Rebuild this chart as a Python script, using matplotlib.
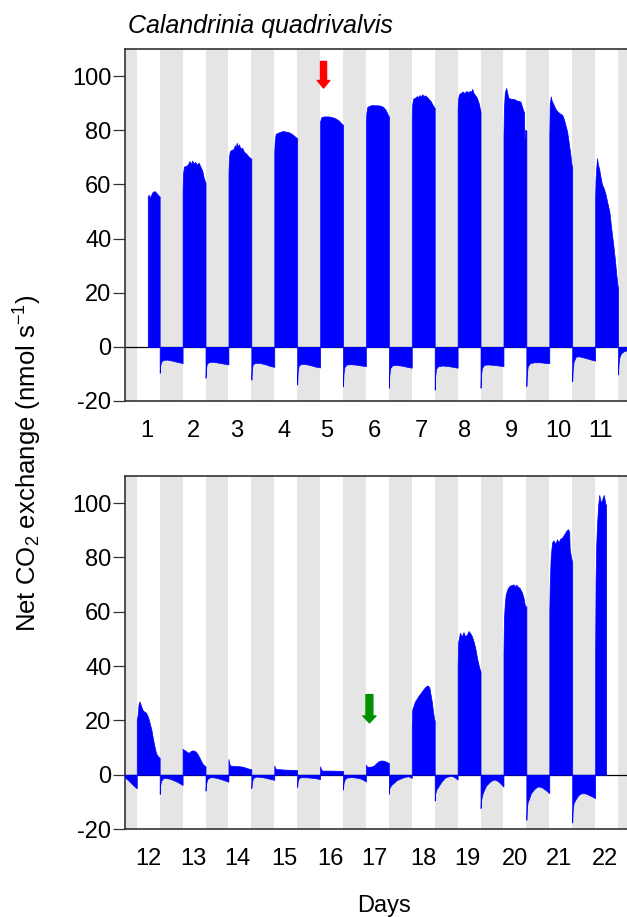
import matplotlib
matplotlib.use("Agg")
import matplotlib.pyplot as plt
import numpy as np

plt.rcParams['font.family'] = ['Liberation Sans', 'DejaVu Sans']
plt.rcParams['mathtext.fontset'] = 'custom'
plt.rcParams['mathtext.rm'] = 'Liberation Sans'
plt.rcParams['mathtext.it'] = 'Liberation Sans:italic'
plt.rcParams['axes.unicode_minus'] = False

# ---------------- data (days, net CO2 exchange nmol s-1) ----------------
top_days = list(range(1, 12))
top_tick_pos = [0.977, 1.996, 2.923, 3.957, 4.891, 5.925, 6.952, 7.899, 8.935, 9.954, 10.866]
bottom_days = list(range(12, 23))
bottom_tick_pos = [12.006, 12.99, 13.95, 14.96, 15.98, 16.925, 18.003, 18.97, 20.01, 20.954, 21.975]

top_series = [
    # day 1 light
    (0.99, 55.6), (1.01, 56.2), (1.03, 55.0), (1.06, 56.0), (1.10, 57.3), (1.14, 57.5),
    (1.18, 56.8), (1.22, 56.0), (1.25, 55.5),
    # night 1
    (1.25, -9.6), (1.26, -7.0), (1.28, -5.6), (1.32, -4.9), (1.40, -4.7), (1.50, -5.0),
    (1.62, -5.5), (1.75, -6.0),
    # day 2
    (1.75, 58.0), (1.76, 64.0), (1.78, 66.6), (1.82, 66.8), (1.86, 67.2), (1.90, 68.6),
    (1.93, 67.5), (1.96, 68.8), (1.99, 67.6), (2.02, 68.3), (2.06, 67.3), (2.10, 68.0),
    (2.14, 66.5), (2.18, 65.0), (2.21, 62.5), (2.25, 60.5),
    # night 2
    (2.25, -11.4), (2.26, -8.0), (2.28, -6.2), (2.33, -5.6), (2.42, -5.5), (2.55, -5.9),
    (2.65, -6.2), (2.75, -6.5),
    # day 3
    (2.75, 64.2), (2.76, 70.0), (2.78, 72.2), (2.82, 72.8), (2.86, 73.0), (2.89, 74.5),
    (2.91, 73.5), (2.93, 75.4), (2.95, 74.0), (2.98, 74.8), (3.01, 73.3), (3.05, 73.5),
    (3.09, 72.0), (3.13, 71.5), (3.18, 70.5), (3.22, 69.8), (3.25, 69.5),
    # night 3
    (3.25, -12.1), (3.26, -8.5), (3.28, -6.5), (3.33, -5.9), (3.42, -5.9), (3.55, -6.4),
    (3.65, -7.0), (3.75, -7.4),
    # day 4
    (3.75, 72.0), (3.76, 76.0), (3.78, 78.6), (3.82, 79.0), (3.88, 79.4), (3.94, 79.7),
    (4.00, 79.5), (4.06, 79.3), (4.12, 78.8), (4.18, 78.0), (4.22, 77.4), (4.25, 77.0),
    # night 4
    (4.25, -13.9), (4.26, -9.5), (4.28, -7.0), (4.33, -6.3), (4.42, -6.3), (4.55, -6.8),
    (4.65, -7.3), (4.75, -7.6),
    # day 5
    (4.75, 83.3), (4.78, 84.9), (4.84, 85.1), (4.92, 85.1), (5.00, 84.9), (5.08, 84.4),
    (5.14, 83.8), (5.19, 83.0), (5.23, 82.2), (5.25, 82.0),
    # night 5
    (5.25, -14.5), (5.26, -10.0), (5.28, -7.5), (5.33, -6.5), (5.42, -6.4), (5.55, -6.6),
    (5.65, -6.9), (5.75, -7.1),
    # day 6
    (5.75, 83.3), (5.76, 86.5), (5.78, 88.6), (5.82, 89.0), (5.88, 89.3), (5.95, 89.2),
    (6.02, 89.2), (6.08, 89.0), (6.13, 88.5), (6.18, 87.5), (6.22, 86.0), (6.25, 85.1),
    # night 6
    (6.25, -15.1), (6.26, -10.5), (6.28, -7.8), (6.33, -6.8), (6.42, -6.7), (6.55, -7.0),
    (6.65, -7.4), (6.75, -7.7),
    # day 7
    (6.75, 85.7), (6.76, 89.5), (6.78, 91.6), (6.82, 92.0), (6.86, 92.6), (6.89, 92.2),
    (6.92, 93.0), (6.95, 92.4), (6.98, 93.3), (7.01, 92.5), (7.04, 92.9), (7.08, 92.3),
    (7.12, 91.5), (7.16, 90.8), (7.20, 89.5), (7.25, 88.2),
    # night 7
    (7.25, -15.8), (7.26, -11.0), (7.28, -8.0), (7.33, -7.1), (7.42, -6.9), (7.55, -7.1),
    (7.65, -7.4), (7.75, -7.7),
    # day 8
    (7.75, 88.0), (7.76, 91.5), (7.78, 93.3), (7.82, 93.8), (7.86, 94.3), (7.90, 93.7),
    (7.94, 94.5), (7.98, 94.0), (8.02, 94.6), (8.05, 94.2), (8.07, 95.3), (8.09, 94.0),
    (8.13, 93.0), (8.17, 92.0), (8.21, 90.0), (8.235, 88.0), (8.25, 86.9),
    # night 8
    (8.25, -15.1), (8.26, -10.5), (8.28, -7.8), (8.33, -6.6), (8.42, -6.5), (8.55, -6.7),
    (8.65, -6.9), (8.75, -7.1),
    # day 9
    (8.75, 78.0), (8.76, 88.0), (8.78, 94.0), (8.81, 95.6), (8.83, 94.0), (8.85, 92.5),
    (8.86, 91.9), (8.92, 91.6), (8.97, 91.6), (9.04, 91.0), (9.12, 90.6), (9.15, 89.0),
    (9.175, 87.6), (9.20, 86.5), (9.205, 77.1), (9.22, 77.5), (9.225, 80.2), (9.25, 79.8),
    # night 9
    (9.25, -14.5), (9.26, -10.0), (9.28, -7.2), (9.33, -6.0), (9.42, -5.7), (9.55, -5.7),
    (9.65, -5.9), (9.75, -6.0),
    # day 10
    (9.75, 78.0), (9.76, 90.0), (9.785, 92.5), (9.80, 91.0), (9.845, 89.4), (9.88, 88.0),
    (9.93, 86.9), (9.98, 86.2), (10.03, 85.7), (10.07, 84.0), (10.10, 82.0), (10.14, 79.5),
    (10.17, 75.9), (10.21, 71.0), (10.235, 67.3), (10.25, 66.5),
    # night 10
    (10.25, -12.7), (10.26, -8.5), (10.28, -5.5), (10.33, -3.6), (10.40, -3.5), (10.52, -4.0),
    (10.64, -4.6), (10.75, -5.1),
    # day 11
    (10.75, 55.0), (10.76, 62.0), (10.79, 69.7), (10.81, 67.5), (10.84, 65.5), (10.87, 62.5),
    (10.90, 60.0), (10.94, 58.5), (10.975, 56.5), (11.02, 53.0), (11.06, 50.0), (11.10, 44.0),
    (11.14, 38.5), (11.18, 32.5), (11.21, 27.0), (11.24, 22.5), (11.25, 22.0),
    # night 11
    (11.25, -10.2), (11.26, -6.5), (11.28, -3.8), (11.32, -2.3), (11.38, -1.6), (11.46, -1.2),
    (11.50, -1.1),
]

bottom_series = [
    # end of night 11
    (11.48, -1.0), (11.55, -1.8), (11.62, -3.0), (11.68, -4.0), (11.75, -5.0),
    # day 12
    (11.75, 20.3), (11.77, 22.0), (11.79, 26.0), (11.81, 27.0), (11.84, 25.5), (11.87, 24.0),
    (11.90, 23.4), (11.955, 22.8), (12.00, 21.0), (12.03, 19.1), (12.07, 16.5), (12.10, 13.5),
    (12.135, 10.5), (12.17, 8.0), (12.21, 6.8), (12.25, 6.2),
    # night 12
    (12.25, -7.1), (12.26, -4.0), (12.28, -2.3), (12.32, -1.4), (12.36, -1.1), (12.45, -1.4),
    (12.55, -2.0), (12.65, -2.8), (12.75, -3.8),
    # day 13
    (12.75, 9.5), (12.78, 9.2), (12.83, 8.6), (12.88, 8.0), (12.92, 8.6), (12.97, 9.0),
    (13.03, 8.6), (13.08, 7.5), (13.12, 6.2), (13.16, 4.8), (13.20, 3.7), (13.25, 3.1),
    # night 13
    (13.25, -5.9), (13.26, -3.5), (13.29, -1.6), (13.34, -1.0), (13.40, -0.9), (13.50, -1.2),
    (13.60, -1.7), (13.75, -2.6),
    # day 14
    (13.75, 5.8), (13.77, 4.0), (13.80, 3.3), (13.90, 3.2), (14.00, 3.1), (14.07, 2.9),
    (14.14, 2.5), (14.20, 2.2), (14.25, 2.0),
    # night 14
    (14.25, -4.9), (14.26, -2.8), (14.29, -1.2), (14.35, -0.7), (14.45, -0.8), (14.55, -1.1),
    (14.65, -1.5), (14.75, -1.9),
    # day 15
    (14.75, 3.4), (14.77, 2.4), (14.80, 2.1), (14.95, 1.9), (15.10, 1.8), (15.25, 1.7),
    # night 15
    (15.25, -4.5), (15.26, -2.5), (15.29, -1.1), (15.35, -0.9), (15.50, -1.0), (15.65, -1.3),
    (15.75, -1.6),
    # day 16
    (15.75, 3.1), (15.77, 2.0), (15.80, 1.5), (16.00, 1.5), (16.25, 1.4),
    # night 16
    (16.25, -5.5), (16.26, -3.2), (16.29, -1.6), (16.34, -1.0), (16.45, -0.9), (16.60, -1.2),
    (16.68, -1.8), (16.75, -2.5),
    # day 17
    (16.75, 3.7), (16.77, 3.0), (16.81, 2.9), (16.86, 3.0), (16.91, 3.2), (16.95, 3.8),
    (16.98, 4.3), (17.02, 4.9), (17.07, 5.2), (17.12, 5.2), (17.165, 5.0), (17.21, 4.6),
    (17.25, 4.3),
    # night 17
    (17.25, -7.0), (17.26, -5.0), (17.30, -3.8), (17.35, -3.1), (17.42, -2.0), (17.53, -1.2),
    (17.62, -0.7), (17.68, -0.6), (17.75, -1.2),
    # day 18
    (17.75, 18.0), (17.76, 24.0), (17.79, 25.5), (17.82, 27.0), (17.86, 28.0), (17.89, 28.9),
    (17.95, 30.2), (18.00, 31.4), (18.04, 32.2), (18.08, 32.8), (18.11, 32.7), (18.135, 32.0),
    (18.16, 29.5), (18.19, 26.5), (18.215, 23.0), (18.24, 20.3), (18.25, 20.0),
    # night 18
    (18.25, -9.5), (18.26, -7.0), (18.29, -5.3), (18.33, -4.3), (18.40, -2.5), (18.48, -1.0),
    (18.55, -0.6), (18.62, -0.4), (18.68, -0.9), (18.75, -1.8),
    # day 19
    (18.75, 40.0), (18.76, 48.6), (18.78, 50.5), (18.805, 52.3), (18.84, 50.8), (18.877, 52.5),
    (18.91, 51.0), (18.95, 51.5), (18.99, 52.9), (19.03, 52.0), (19.06, 51.0), (19.10, 49.0),
    (19.13, 47.0), (19.18, 42.4), (19.22, 39.5), (19.25, 38.0),
    # night 19
    (19.25, -12.3), (19.26, -9.5), (19.29, -7.2), (19.315, -6.1), (19.37, -4.0), (19.46, -2.5),
    (19.52, -1.9), (19.57, -1.8), (19.64, -2.5), (19.70, -3.5), (19.75, -4.4),
    # day 20
    (19.75, 45.0), (19.76, 57.2), (19.78, 63.0), (19.80, 66.4), (19.84, 68.5), (19.88, 69.5),
    (19.92, 69.8), (19.97, 70.1), (20.00, 69.2), (20.03, 70.0), (20.06, 69.3), (20.10, 68.8),
    (20.154, 67.1), (20.19, 65.0), (20.21, 63.0), (20.226, 62.1), (20.25, 62.0),
    # night 20
    (20.25, -16.6), (20.26, -12.0), (20.28, -10.0), (20.30, -9.2), (20.35, -6.8), (20.41, -5.5),
    (20.47, -4.6), (20.52, -4.3), (20.59, -4.7), (20.66, -5.5), (20.75, -6.8),
    # day 21
    (20.75, 60.0), (20.76, 70.0), (20.78, 80.0), (20.81, 85.5), (20.84, 86.3), (20.88, 85.0),
    (20.92, 86.7), (20.95, 85.5), (20.99, 86.9), (21.03, 87.3), (21.07, 88.4), (21.10, 89.2),
    (21.13, 90.0), (21.16, 90.4), (21.185, 89.5), (21.195, 83.0), (21.22, 80.5), (21.25, 78.1),
    # night 21
    (21.25, -17.6), (21.26, -13.0), (21.28, -10.5), (21.32, -9.2), (21.38, -7.6), (21.44, -6.9),
    (21.50, -6.8), (21.56, -7.0), (21.62, -7.5), (21.68, -8.0), (21.75, -8.6),
    # day 22
    (21.75, 45.0), (21.76, 72.0), (21.775, 85.0), (21.79, 91.6), (21.815, 99.0), (21.84, 103.0),
    (21.865, 101.0), (21.888, 100.3), (21.915, 102.0), (21.94, 103.0), (21.96, 101.0),
    (21.975, 99.6), (21.99, 99.5),
]

y_ticks = [-20, 0, 20, 40, 60, 80, 100]

# ---------------- figure ----------------
W, H = 627, 917
fig = plt.figure(figsize=(W / 100, H / 100), dpi=100)

left = 125.3 / W
width = (629.5 - 125.3) / W
ax1 = fig.add_axes([left, 1 - 401 / H, width, 352 / H])
ax2 = fig.add_axes([left, 1 - 829 / H, width, 353 / H])

panels = [
    (ax1, top_series, (0.5, 11.5), range(0, 12), top_tick_pos, top_days),
    (ax2, bottom_series, (11.5, 22.5), range(11, 23), bottom_tick_pos, bottom_days),
]

for ax, series, xl, dark_days, tpos, tlab in panels:
    for d in dark_days:
        ax.axvspan(d + 0.25, d + 0.75, color='#e5e5e5', lw=0, zorder=0)
    ax.axhline(0, color='black', lw=0.9, zorder=2)
    t = np.array([p[0] for p in series])
    v = np.array([p[1] for p in series])
    ax.fill_between(t, v, 0, color='#0000ff', lw=0.5, zorder=3)
    ax.set_xlim(*xl)
    ax.set_ylim(-20, 110)
    ax.set_yticks(y_ticks)
    ax.set_xticks(tpos)
    ax.set_xticklabels([str(d) for d in tlab])
    ax.tick_params(axis='x', length=0, pad=14, labelsize=17)
    ax.tick_params(axis='y', length=8.5, width=0.9, pad=1.5, labelsize=17,
                   color='#333333', direction='out')
    for s in ['left', 'top', 'bottom']:
        ax.spines[s].set_linewidth(1.2)
        ax.spines[s].set_color('#333333')
    ax.spines['right'].set_visible(False)

# arrows
ax1.annotate('', xy=(4.825, 95.6), xytext=(4.825, 105.4),
             arrowprops=dict(arrowstyle='simple,head_length=0.6,head_width=1.0,tail_width=0.48',
                             color='#ff0000', shrinkA=0, shrinkB=0, mutation_scale=9),
             zorder=5)
ax2.annotate('', xy=(16.826, 19.1), xytext=(16.826, 29.5),
             arrowprops=dict(arrowstyle='simple,head_length=0.55,head_width=1.05,tail_width=0.55',
                             color='#009000', shrinkA=0, shrinkB=0, mutation_scale=9),
             zorder=5)

fig.text(128 / W, 1 - 33 / H, 'Calandrinia quadrivalvis', style='italic', fontsize=18,
         ha='left', va='baseline')
fig.text(27.5 / W, 1 - 463.5 / H, r'Net CO$_2$ exchange (nmol s$^{-1}$)', rotation=90,
         fontsize=18.5, ha='center', va='center')
fig.text(384 / W, 1 - 912 / H, 'Days', fontsize=17, ha='center', va='baseline')

fig.savefig('out.png', dpi=100)
